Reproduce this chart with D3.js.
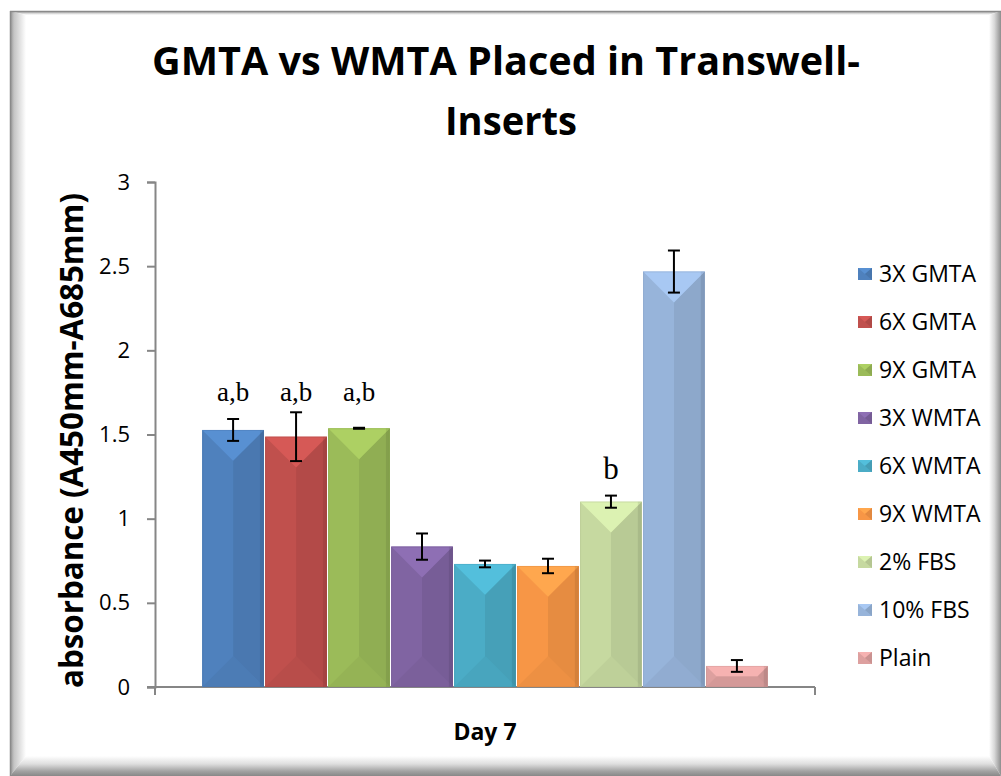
<!DOCTYPE html>
<html>
<head>
<meta charset="utf-8">
<script src="https://cdn.jsdelivr.net/npm/d3@7"></script>
<style>
  html, body { margin: 0; padding: 0; background: #ffffff; }
  svg { display: block; }
</style>
</head>
<body>
<svg id="chart" width="1001" height="776"></svg>
<script>
// ---- data ----
const category = ["Day 7"];
const seriesNames = ["3X GMTA", "6X GMTA", "9X GMTA", "3X WMTA", "6X WMTA", "9X WMTA", "2% FBS", "10% FBS", "Plain"];
const seriesValues = [1.527, 1.487, 1.537, 0.834, 0.731, 0.719, 1.101, 2.468, 0.125];
const seriesErrors = [0.065, 0.145, 0.003, 0.078, 0.020, 0.043, 0.036, 0.125, 0.035];
const significance = ["a,b", "a,b", "a,b", "", "", "", "b", "", ""];
const seriesColors = ["#4F81BD", "#C0504D", "#9BBB59", "#8064A2", "#4BACC6", "#F79646", "#C6D9A0", "#97B4DA", "#DDA09F"];
const yTicks = [0, 0.5, 1, 1.5, 2, 2.5, 3];
const titleLines = ["GMTA vs WMTA Placed in Transwell-", "Inserts"];
const yTitle = "absorbance (A450mm-A685mm)";

const svg = d3.select("#chart");
const W = 1001, H = 776;
const defs = svg.append("defs");

// ---- chart frame with a bevelled edge ----
const gradL = defs.append("linearGradient").attr("id", "bevelL").attr("x1", 0).attr("x2", 1).attr("y1", 0).attr("y2", 0);
gradL.append("stop").attr("offset", 0).attr("stop-color", "#8e8e8e");
gradL.append("stop").attr("offset", 0.25).attr("stop-color", "#c4c4c4");
gradL.append("stop").attr("offset", 1).attr("stop-color", "#ffffff");
const gradB = defs.append("linearGradient").attr("id", "bevelB").attr("x1", 0).attr("x2", 0).attr("y1", 0).attr("y2", 1);
gradB.append("stop").attr("offset", 0).attr("stop-color", "#ffffff");
gradB.append("stop").attr("offset", 0.4).attr("stop-color", "#dedede");
gradB.append("stop").attr("offset", 0.75).attr("stop-color", "#a4a4a4");
gradB.append("stop").attr("offset", 1).attr("stop-color", "#888888");
const gradR = defs.append("linearGradient").attr("id", "bevelR").attr("x1", 0).attr("x2", 1).attr("y1", 0).attr("y2", 0);
gradR.append("stop").attr("offset", 0).attr("stop-color", "#ffffff");
gradR.append("stop").attr("offset", 0.45).attr("stop-color", "#d8d8d8");
gradR.append("stop").attr("offset", 1).attr("stop-color", "#8e8e8e");
const gradT = defs.append("linearGradient").attr("id", "bevelT").attr("x1", 0).attr("x2", 0).attr("y1", 0).attr("y2", 1);
gradT.append("stop").attr("offset", 0).attr("stop-color", "#9a9a9a");
gradT.append("stop").attr("offset", 1).attr("stop-color", "#ffffff");

const fx0 = 10, fy0 = 11, fx1 = W, fy1 = H;
const bw = { l: 16, b: 20, r: 12, t: 4 };
const frame = svg.append("g");
frame.append("rect").attr("x", fx0).attr("y", fy0).attr("width", fx1 - fx0).attr("height", fy1 - fy0).attr("fill", "#ffffff");
// left edge
frame.append("polygon")
  .attr("points", [[fx0, fy0], [fx0 + bw.l, fy0 + bw.t], [fx0 + bw.l, fy1 - bw.b], [fx0, fy1]].join(" "))
  .attr("fill", "url(#bevelL)");
// top edge
frame.append("polygon")
  .attr("points", [[fx0, fy0], [fx1, fy0], [fx1 - bw.r, fy0 + bw.t], [fx0 + bw.l, fy0 + bw.t]].join(" "))
  .attr("fill", "url(#bevelT)");
// right edge
frame.append("polygon")
  .attr("points", [[fx1, fy0], [fx1, fy1], [fx1 - bw.r, fy1 - bw.b], [fx1 - bw.r, fy0 + bw.t]].join(" "))
  .attr("fill", "url(#bevelR)");
// bottom edge
frame.append("polygon")
  .attr("points", [[fx0, fy1], [fx0 + bw.l, fy1 - bw.b], [fx1 - bw.r, fy1 - bw.b], [fx1, fy1]].join(" "))
  .attr("fill", "url(#bevelB)");
frame.append("line").attr("x1", fx0).attr("x2", fx1).attr("y1", fy0 + 0.5).attr("y2", fy0 + 0.5).attr("stroke", "#8a8a8a").attr("stroke-width", 1.5);
frame.append("line").attr("x1", fx0 + 0.5).attr("x2", fx0 + 0.5).attr("y1", fy0).attr("y2", fy1).attr("stroke", "#8a8a8a").attr("stroke-width", 1.5);

// ---- scales ----
const plot = { left: 155, right: 815, top: 182, bottom: 687 };
const y = d3.scaleLinear().domain([0, 3]).range([plot.bottom, plot.top]);
const x0 = d3.scaleBand().domain(category).range([plot.left, plot.right]).padding(0);
const x1 = d3.scaleBand().domain(seriesNames).range([0, x0.bandwidth()])
  .paddingOuter(0.75).paddingInner(0.02);

// ---- title ----
const title = svg.append("g").attr("font-family", "'Open Sans', sans-serif").attr("font-weight", 700)
  .attr("font-size", 39).attr("fill", "#000").attr("text-anchor", "middle");
title.append("text").attr("x", 506).attr("y", 75).attr("textLength", 708).attr("lengthAdjust", "spacingAndGlyphs").text(titleLines[0]);
title.append("text").attr("x", 511).attr("y", 135).attr("textLength", 132).attr("lengthAdjust", "spacingAndGlyphs").text(titleLines[1]);

// ---- y axis ----
const yAxis = d3.axisLeft(y).tickValues(yTicks).tickSize(8).tickPadding(17).tickFormat(d3.format("~g"));
const yg = svg.append("g").attr("transform", `translate(${plot.left},0)`).call(yAxis);
yg.select(".domain").attr("stroke", "#868686").attr("stroke-width", 2);
yg.selectAll(".tick line").attr("stroke", "#868686").attr("stroke-width", 2);
yg.selectAll(".tick text").attr("font-family", "'Open Sans', sans-serif").attr("font-size", 22).attr("fill", "#000");

svg.append("text")
  .attr("transform", `translate(83,${(688 + 193) / 2}) rotate(-90)`)
  .attr("text-anchor", "middle")
  .attr("font-family", "'Open Sans', sans-serif").attr("font-weight", 700).attr("font-size", 33)
  .attr("textLength", 495).attr("lengthAdjust", "spacingAndGlyphs")
  .text(yTitle);

// ---- x axis ----
const xg = svg.append("g");
xg.append("line").attr("x1", plot.left - 8).attr("x2", plot.right).attr("y1", plot.bottom).attr("y2", plot.bottom)
  .attr("stroke", "#868686").attr("stroke-width", 2);
[x0.range()[0], x0.range()[1]].forEach(px => {
  xg.append("line").attr("x1", px).attr("x2", px).attr("y1", plot.bottom).attr("y2", plot.bottom + 8)
    .attr("stroke", "#868686").attr("stroke-width", 2);
});
xg.selectAll("text.cat").data(category).join("text").attr("class", "cat")
  .attr("x", d => x0(d) + x0.bandwidth() / 2).attr("y", 740)
  .attr("text-anchor", "middle")
  .attr("font-family", "'Open Sans', sans-serif").attr("font-weight", 700).attr("font-size", 23)
  .text(d => d);

// ---- bars with a bevelled face ----
const rows = seriesNames.map((s, i) => ({
  name: s, value: seriesValues[i], err: seriesErrors[i], color: seriesColors[i], note: significance[i]
}));

function bevelFace(g, d, bx, bwid) {
  const top = y(d.value), bot = y(0), xa = bx, xb = bx + bwid;
  const k = Math.min(bwid / 2, (bot - top) / 2);
  const base = d3.color(d.color);
  g.append("rect").attr("x", xa).attr("y", top).attr("width", bwid).attr("height", bot - top).attr("fill", base.formatHex());
  // right facet
  g.append("polygon")
    .attr("points", [[xb, top], [xb, bot], [xb - k, bot - k], [xb - k, top + k]].join(" "))
    .attr("fill", base.darker(0.2).formatHex());
  // left facet
  g.append("polygon")
    .attr("points", [[xa, top], [xa + k, top + k], [xa + k, bot - k], [xa, bot]].join(" "))
    .attr("fill", base.formatHex());
  // top facet
  g.append("polygon")
    .attr("points", [[xa, top], [xb, top], [xb - k, top + k], [xa + k, top + k]].join(" "))
    .attr("fill", base.brighter(0.3).formatHex());
  // bottom facet
  g.append("polygon")
    .attr("points", [[xa, bot], [xa + k, bot - k], [xb - k, bot - k], [xb, bot]].join(" "))
    .attr("fill", base.darker(0.12).formatHex());
  // right edge shading
  g.append("rect").attr("x", xb - 4).attr("y", top).attr("width", 4).attr("height", bot - top)
    .attr("fill", "#000").attr("fill-opacity", 0.08);
  // thin rim
  g.append("rect").attr("x", xa + 0.5).attr("y", top + 0.5).attr("width", bwid - 1).attr("height", bot - top - 1)
    .attr("fill", "none").attr("stroke", base.darker(0.4).formatHex()).attr("stroke-opacity", 0.3);
}

const barsG = svg.append("g").attr("transform", `translate(${x0(category[0])},0)`);
rows.forEach(d => {
  const g = barsG.append("g");
  bevelFace(g, d, x1(d.name), x1.bandwidth());
});

// ---- error bars ----
const errG = barsG.append("g").attr("stroke", "#000").attr("stroke-width", 2);
rows.forEach(d => {
  const cx = x1(d.name) + x1.bandwidth() / 2;
  const hi = y(d.value + d.err), lo = y(d.value - d.err);
  errG.append("line").attr("x1", cx).attr("x2", cx).attr("y1", hi).attr("y2", lo);
  errG.append("line").attr("x1", cx - 6).attr("x2", cx + 6).attr("y1", hi).attr("y2", hi);
  errG.append("line").attr("x1", cx - 6).attr("x2", cx + 6).attr("y1", lo).attr("y2", lo);
});

// ---- significance letters ----
const groups = d3.groups(rows.filter(d => d.note), d => d.note);
groups.forEach(([note, members]) => {
  const peak = d3.min(members, d => y(d.value + d.err));
  members.forEach(d => {
    barsG.append("text")
      .attr("x", x1(d.name) + x1.bandwidth() / 2)
      .attr("y", peak - (note === "b" ? 17 : 11))
      .attr("text-anchor", "middle")
      .attr("font-family", "'Liberation Serif', 'Times New Roman', serif")
      .attr("font-size", note === "b" ? 31 : 27)
      .text(note);
  });
});

// ---- legend ----
const legend = svg.append("g").attr("transform", "translate(858,274)");
rows.forEach((d, i) => {
  const g = legend.append("g").attr("transform", `translate(0,${i * 48})`);
  const c = d3.color(d.color);
  g.append("rect").attr("x", 0).attr("y", -6).attr("width", 14).attr("height", 12).attr("fill", c.formatHex());
  g.append("polygon").attr("points", "0,-6 14,-6 7,0").attr("fill", c.brighter(0.3).formatHex());
  g.append("polygon").attr("points", "14,-6 14,6 7,0").attr("fill", c.darker(0.25).formatHex());
  g.append("text").attr("x", 21).attr("y", 0).attr("dy", "0.36em")
    .attr("font-family", "'Open Sans', sans-serif").attr("font-size", 23).attr("fill", "#000")
    .text(d.name);
});
</script>
</body>
</html>
